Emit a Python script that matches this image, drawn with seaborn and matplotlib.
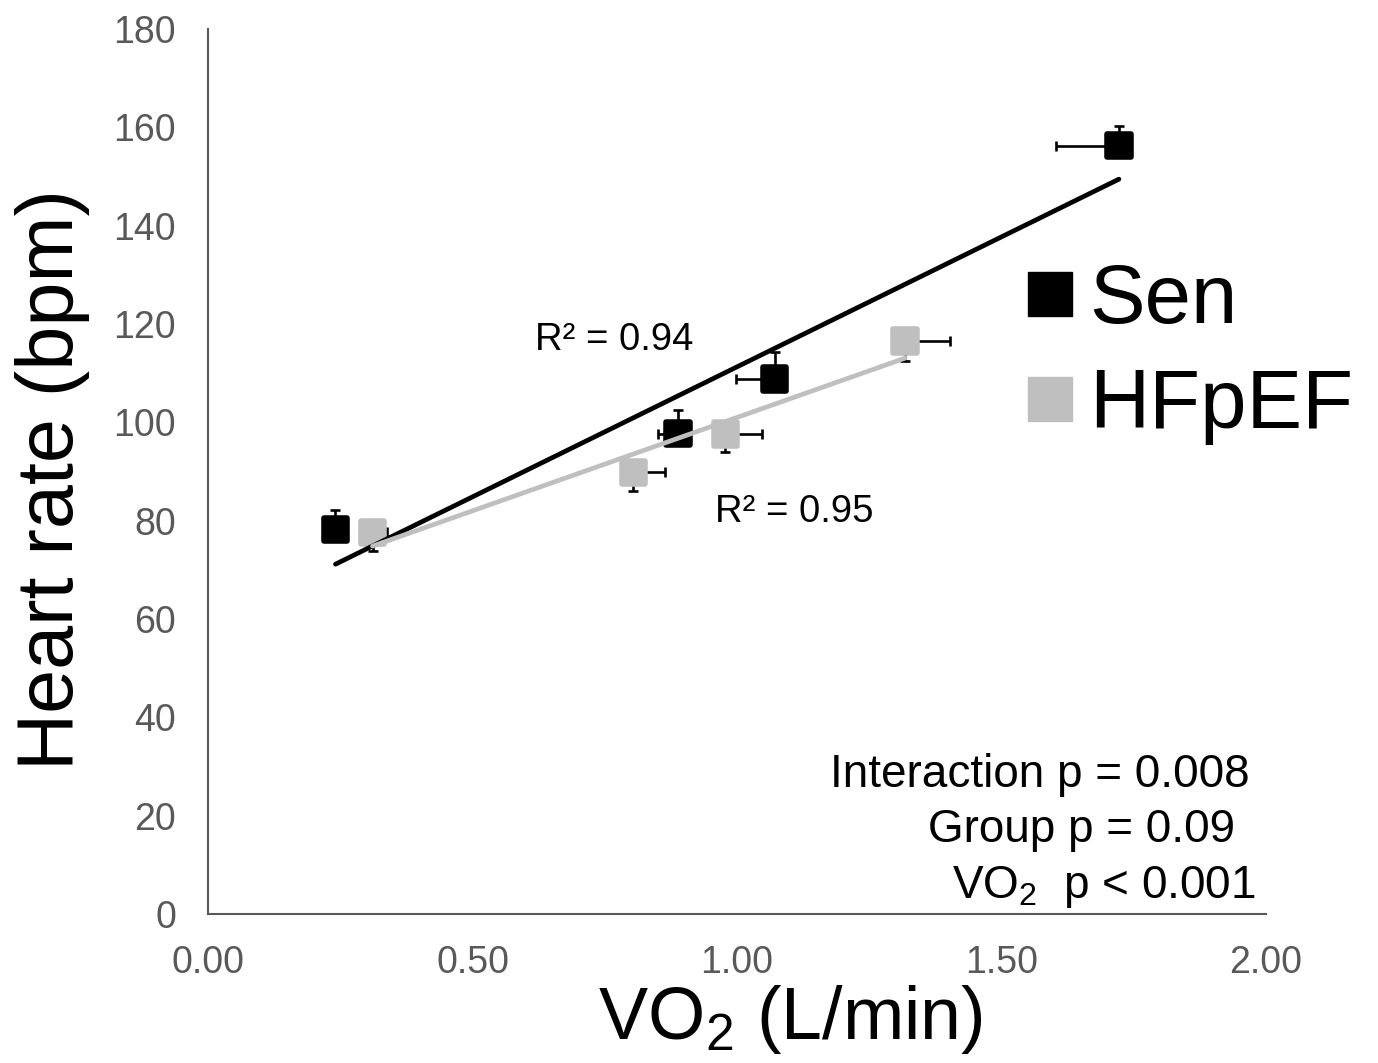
import pandas as pd
import matplotlib
matplotlib.use("Agg")
import matplotlib.pyplot as plt
from matplotlib.lines import Line2D
import seaborn as sns

# DATA
groups = ['Sen', 'HFpEF']
sen_vo2 = [0.241, 0.888, 1.071, 1.722]
sen_hr = [78.2, 97.7, 108.8, 156.3]
sen_vo2_err_left = [0.02, 0.038, 0.072, 0.119]
sen_hr_err_up = [4.0, 4.9, 5.5, 3.9]

hf_vo2 = [0.311, 0.804, 0.978, 1.318]
hf_hr = [77.6, 89.8, 97.6, 116.6]
hf_vo2_err_right = [0.028, 0.059, 0.070, 0.085]
hf_hr_err_down = [3.7, 3.7, 3.7, 4.2]

r2_labels = ['R\u00b2 = 0.94', 'R\u00b2 = 0.95']
stats_lines = ['Interaction p = 0.008', 'Group p = 0.09', 'VO$_2$  p < 0.001']

# CONFIG
W, H = 1378, 1063
BLACK = '#000000'
GREY = '#bfbfbf'
TICK_COL = '#595959'

sns.set_style('white')
plt.rcParams['font.family'] = ['Liberation Sans', 'DejaVu Sans']
plt.rcParams['mathtext.default'] = 'regular'
plt.rcParams['text.color'] = 'black'

df = pd.DataFrame({
    'group': ['Sen'] * len(sen_vo2) + ['HFpEF'] * len(hf_vo2),
    'vo2': sen_vo2 + hf_vo2,
    'hr': sen_hr + hf_hr,
})
palette = {'Sen': BLACK, 'HFpEF': GREY}

fig = plt.figure(figsize=(W / 100, H / 100), dpi=100)
ax = fig.add_axes([208 / W, 149 / H, 1058 / W, 885 / H])

# error bars (one-sided, Excel style)
eb_kw = dict(fmt='none', ecolor='black', elinewidth=1.9, capsize=3.5, capthick=1.9, zorder=1)
ax.errorbar(sen_vo2, sen_hr, xerr=[sen_vo2_err_left, [0] * 4], yerr=[[0] * 4, sen_hr_err_up], **eb_kw)
ax.errorbar(hf_vo2, hf_hr, xerr=[[0] * 4, hf_vo2_err_right], yerr=[hf_hr_err_down, [0] * 4], **eb_kw)

# markers
sns.scatterplot(data=df, x='vo2', y='hr', hue='group', palette=palette, marker='s',
                s=17 ** 2, edgecolor='face', linewidth=4, legend=False, ax=ax, zorder=2)
ax.collections[-1].set_joinstyle('round')

# linear trendlines
for g in groups:
    sns.regplot(data=df[df.group == g], x='vo2', y='hr', scatter=False, ci=None,
                color=palette[g], line_kws={'lw': 3.4, 'zorder': 4}, ax=ax)

ax.set_xlim(0, 2.0)
ax.set_ylim(0, 180)
ax.set_xticks([0, 0.5, 1.0, 1.5, 2.0])
ax.set_xticklabels([f'{v:.2f}' for v in [0, 0.5, 1.0, 1.5, 2.0]])
ax.set_yticks(range(0, 181, 20))
ax.tick_params(axis='both', length=0, labelsize=27, labelcolor=TICK_COL)
ax.tick_params(axis='y', pad=23)
ax.tick_params(axis='x', pad=22)
ax.set_xlabel('')
ax.set_ylabel('')
sns.despine(ax=ax)
for s in ['left', 'bottom']:
    ax.spines[s].set_color(TICK_COL)
    ax.spines[s].set_linewidth(1.5)

# axis titles
fig.text(53 / W, 1 - 480 / H, 'Heart rate (bpm)', rotation=90, ha='center', va='center', fontsize=57)
fig.text(790 / W, 1 - 1020 / H, 'VO$_2$ (L/min)', ha='center', va='center', fontsize=53)

# legend
handles = [Line2D([], [], marker='s', ls='none', ms=31, color=palette[g], mec=palette[g]) for g in groups]
ax.legend(handles, groups, loc='upper left', bbox_to_anchor=(1027 / W, 1 - 262 / H),
          bbox_transform=fig.transFigure, frameon=False, fontsize=60, handlelength=0.55,
          handletextpad=0.2, labelspacing=0.33, borderpad=0, borderaxespad=0)

# R2 annotations
fig.text(535 / W, 1 - 350 / H, r2_labels[0], ha='left', va='baseline', fontsize=27.5)
fig.text(715 / W, 1 - 522 / H, r2_labels[1], ha='left', va='baseline', fontsize=27.5)

# stats box
for txt, x0, yb in zip(stats_lines, [830, 928, 952], [787, 842, 898]):
    fig.text(x0 / W, 1 - yb / H, txt, ha='left', va='baseline', fontsize=33)

fig.savefig('out.png', dpi=100)
